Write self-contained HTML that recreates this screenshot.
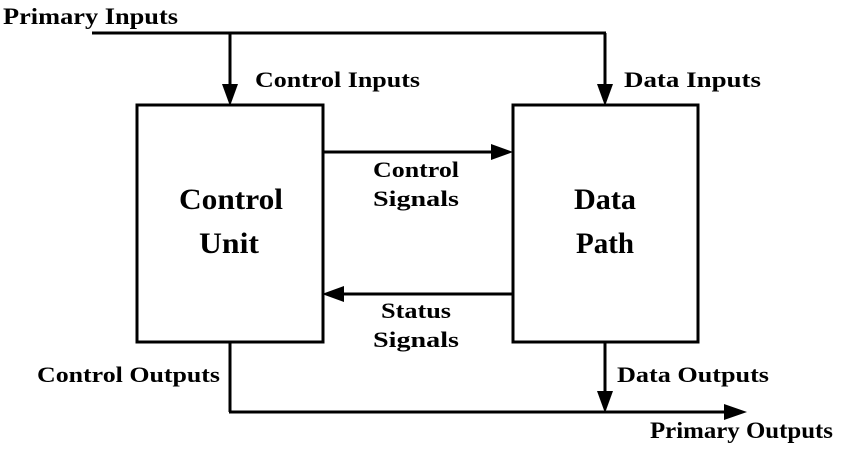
<!DOCTYPE html>
<html><head><style>
html,body{margin:0;padding:0;background:#fff;}
svg text{font-family:"Liberation Serif",serif;font-weight:bold;fill:#000;}
</style></head><body>
<svg width="850" height="447" viewBox="0 0 850 447" xmlns="http://www.w3.org/2000/svg">
<g stroke="#000" stroke-width="3" fill="none">
<rect x="137" y="105" width="186" height="237"/>
<rect x="513" y="105" width="185" height="237"/>
<line x1="92" y1="33" x2="606" y2="33"/>
<line x1="230" y1="33" x2="230" y2="88"/>
<line x1="605" y1="33" x2="605" y2="88"/>
<line x1="323" y1="152" x2="495" y2="152"/>
<line x1="513" y1="294" x2="340" y2="294"/>
<line x1="230" y1="342" x2="230" y2="412"/>
<line x1="229" y1="412" x2="728" y2="412"/>
<line x1="605" y1="342" x2="605" y2="395"/>
</g>
<g fill="#000">
<polygon points="222,84 238,84 230,106"/>
<polygon points="597,84 613,84 605,106"/>
<polygon points="491,144 491,160 513,152"/>
<polygon points="344,286 344,302 322,294"/>
<polygon points="597,391 613,391 605,413"/>
<polygon points="724,404 724,420 747,412"/>
</g>
<g lengthAdjust="spacingAndGlyphs">
<text x="3" y="24" font-size="23" textLength="175" lengthAdjust="spacingAndGlyphs">Primary Inputs</text>
<text x="255" y="87" font-size="22" textLength="165" lengthAdjust="spacingAndGlyphs">Control Inputs</text>
<text x="624" y="87" font-size="22" textLength="137" lengthAdjust="spacingAndGlyphs">Data Inputs</text>
<text x="373" y="177" font-size="22" textLength="86" lengthAdjust="spacingAndGlyphs">Control</text>
<text x="373" y="206" font-size="22" textLength="86" lengthAdjust="spacingAndGlyphs">Signals</text>
<text x="381" y="318" font-size="22" textLength="70" lengthAdjust="spacingAndGlyphs">Status</text>
<text x="373" y="347" font-size="22" textLength="86" lengthAdjust="spacingAndGlyphs">Signals</text>
<text x="179" y="209" font-size="30" textLength="104" lengthAdjust="spacingAndGlyphs">Control</text>
<text x="199" y="253" font-size="30" textLength="60" lengthAdjust="spacingAndGlyphs">Unit</text>
<text x="574" y="209" font-size="30" textLength="62" lengthAdjust="spacingAndGlyphs">Data</text>
<text x="576" y="253" font-size="30" textLength="58" lengthAdjust="spacingAndGlyphs">Path</text>
<text x="37" y="382" font-size="22" textLength="183" lengthAdjust="spacingAndGlyphs">Control Outputs</text>
<text x="617" y="382" font-size="22" textLength="152" lengthAdjust="spacingAndGlyphs">Data Outputs</text>
<text x="650" y="438" font-size="23" textLength="183" lengthAdjust="spacingAndGlyphs">Primary Outputs</text>
</g>
</svg>
</body></html>
